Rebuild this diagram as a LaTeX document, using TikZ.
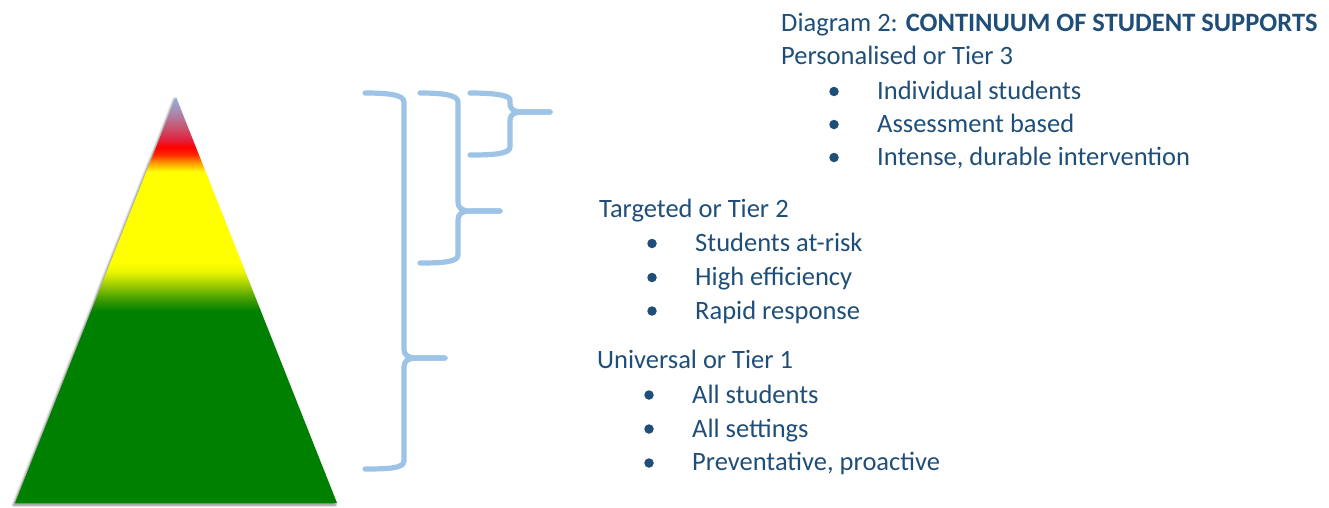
\documentclass[tikz,border=0pt]{standalone}
\usepackage{fontspec}
\setmainfont{Carlito}
\usetikzlibrary{shadows.blur}

\definecolor{ink}{HTML}{1F4E79}
\definecolor{bracecol}{HTML}{9DC3E6}
\definecolor{tgreen}{HTML}{008000}
\definecolor{tgreenA}{HTML}{3A9A00}
\definecolor{tgreenB}{HTML}{A0CE00}
\definecolor{tgreenC}{HTML}{E8F400}
\definecolor{tyellow}{HTML}{FFFF00}
\definecolor{torange}{HTML}{FF9A00}
\definecolor{tredA}{HTML}{FF2A00}
\definecolor{tred}{HTML}{FF0000}
\definecolor{tredB}{HTML}{E2203A}
\definecolor{tmauve}{HTML}{C45C78}
\definecolor{tlilac}{HTML}{A88EB8}
\definecolor{tsky}{HTML}{8DAEE0}

% bottom-to-top colour stops; the filled box maps to 25bp..75bp
\pgfdeclareverticalshading{tierfill}{100bp}{%
  color(0bp)=(tgreen); color(48.6bp)=(tgreen);
  color(50bp)=(tgreenA); color(51.9bp)=(tgreenB);
  color(53.4bp)=(tgreenC); color(54.6bp)=(tyellow);
  color(65.8bp)=(tyellow); color(66.9bp)=(torange);
  color(67.9bp)=(tredA); color(68.8bp)=(tred);
  color(69.7bp)=(tredB); color(71.5bp)=(tmauve);
  color(73.4bp)=(tlilac); color(75bp)=(tsky); color(100bp)=(tsky)}

\tikzset{
  txt/.style={anchor=base west, inner sep=0pt, text=ink,
    font=\fontsize{26.5}{30}\selectfont},
  dot/.style={circle, fill=ink, inner sep=0pt, minimum size=9.5pt},
  brace/.style={draw=bracecol, line width=5.2pt, line cap=round, line join=round},
}

\begin{document}
\begin{tikzpicture}[x=1pt, y=-1pt]
\useasboundingbox (0,0) rectangle (1329,507);

% pyramid
\path[shading=tierfill,
      blur shadow={shadow xshift=-1.5pt, shadow yshift=-2pt,
                   shadow blur radius=2.5pt, shadow opacity=55}]
  (176,97) -- (337,503) -- (15,503) -- cycle;

% braces: outer (tier 1), middle (tier 2), inner (tier 3)
\draw[brace] (365,93) .. controls (390,93) and (404,95) .. (404,102)
  -- (404,349) .. controls (404,355) and (408,358) .. (416,358) -- (445,358);
\draw[brace] (445,358) -- (416,358) .. controls (408,358) and (404,361) .. (404,367)
  -- (404,461) .. controls (404,468) and (390,469) .. (365,469);

\draw[brace] (420,93) .. controls (443,93) and (458,95) .. (458,102)
  -- (458,202) .. controls (458,208) and (462,211) .. (470,211) -- (500,211);
\draw[brace] (500,211) -- (470,211) .. controls (462,211) and (458,214) .. (458,220)
  -- (458,255) .. controls (458,262) and (443,263) .. (420,263);

\draw[brace] (470,93) .. controls (493,93) and (510,95) .. (510,100)
  -- (510,104) .. controls (510,109) and (514,112) .. (522,112) -- (550,112);
\draw[brace] (550,112) -- (522,112) .. controls (514,112) and (510,115) .. (510,120)
  -- (510,147) .. controls (510,154) and (493,155) .. (470,155);

% heading and tier 3
\node[txt] (title) at (781,31) {Diagram 2: \textbf{CONTINUUM OF STUDENT SUPPORTS}};
\node[txt] (t3) at (781,64) {Personalised or Tier 3};
\node[dot] (b31) at (834,91.5) {};
\node[dot] (b32) at (834,124.5) {};
\node[dot] (b33) at (834,157.5) {};
\node[txt] (t31) at (877,99.5) {Individual students};
\node[txt] (t32) at (877,132.5) {Assessment based};
\node[txt] (t33) at (877,165.5) {Intense, durable intervention};

% tier 2
\node[txt] (t2) at (599,217) {Targeted or Tier 2};
\node[dot] (b21) at (652,243.5) {};
\node[dot] (b22) at (652,277.5) {};
\node[dot] (b23) at (652,311) {};
\node[txt] (t21) at (695,251.5) {Students at-risk};
\node[txt] (t22) at (695,285.5) {High efficiency};
\node[txt] (t23) at (695,319) {Rapid response};

% tier 1
\node[txt] (t1) at (597,368.5) {Universal or Tier 1};
\node[dot] (b11) at (649,395) {};
\node[dot] (b12) at (649,429) {};
\node[dot] (b13) at (649,463) {};
\node[txt] (t11) at (692,403.5) {All students};
\node[txt] (t12) at (692,437) {All settings};
\node[txt] (t13) at (692,470.5) {Preventative, proactive};
\end{tikzpicture}
\end{document}
